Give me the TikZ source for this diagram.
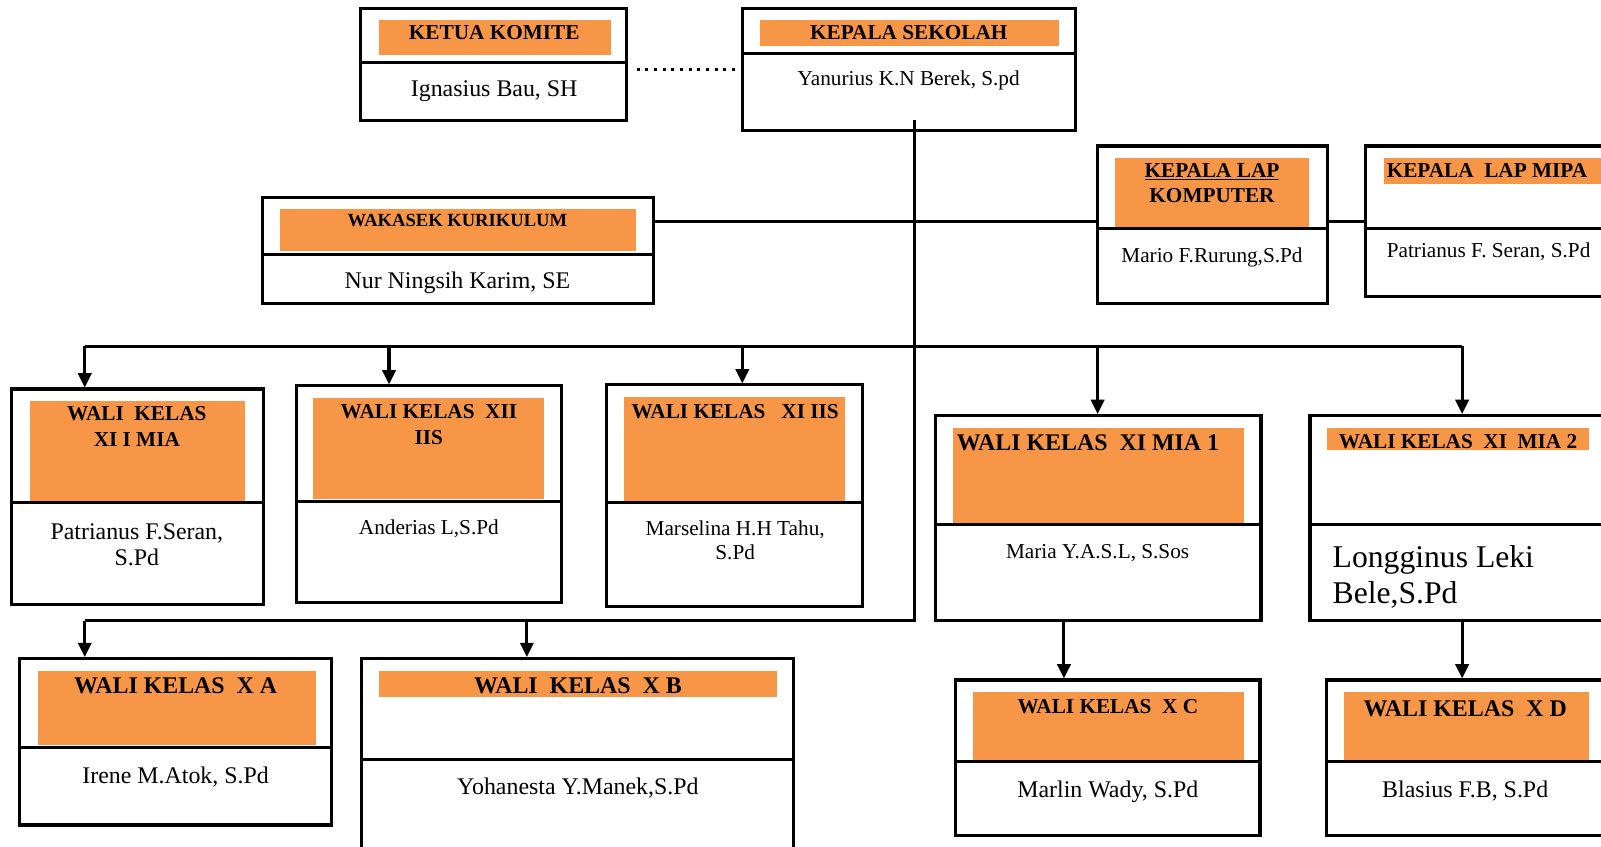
\documentclass[tikz,border=0pt]{standalone}
\usepackage{fontspec}
\setmainfont{Liberation Serif}
\usetikzlibrary{arrows.meta}
\definecolor{orng}{RGB}{247,150,70}
\tikzset{
 boxst/.style={draw, line width=3pt, rectangle, inner sep=0pt},
 divst/.style={line width=3pt},
 bar/.style={fill=orng},
 hd/.style={font=\fontsize{20.8}{25}\selectfont\bfseries, inner sep=0pt, anchor=base},
 hdl/.style={font=\fontsize{23.4}{28}\selectfont\bfseries, inner sep=0pt, anchor=base},
 nm/.style={font=\fontsize{20.8}{25}\selectfont, inner sep=0pt, anchor=base},
 nml/.style={font=\fontsize{23.4}{28}\selectfont, inner sep=0pt, anchor=base},
 conn/.style={line width=3pt},
 arr/.style={line width=3pt, -{Triangle[width=13pt,length=14pt]}},
 dotln/.style={line width=3pt, dash pattern=on 3pt off 5.5pt}
}
\newcommand\orgbox[6]{%
  \node[boxst, minimum width={(#4)-(#2)}, minimum height={(#5)-(#3)}] (#1) at ({((#2)+(#4))/2},{((#3)+(#5))/2}) {};
  \draw[divst] (#1.west |- 0,#6) -- (#1.east |- 0,#6);
}
\begin{document}
\begin{tikzpicture}[x=1pt,y=-1pt]
\useasboundingbox (0,0) rectangle (1568,829);
\clip (0,0) rectangle (1568,829);
% orange bars
\fill[bar] (371,20) rectangle (598,54);
\fill[bar] (744,20) rectangle (1037,45);
\fill[bar] (274,205) rectangle (623,246);
\fill[bar] (1092,155) rectangle (1282,222);
\fill[bar] (1355,155) rectangle (1600,180);
\fill[bar] (29,393) rectangle (240,491);
\fill[bar] (307,390) rectangle (533,489);
\fill[bar] (611,389) rectangle (828,491);
\fill[bar] (933,419) rectangle (1218,513);
\fill[bar] (1300,419) rectangle (1556,441);
\fill[bar] (37,657) rectangle (309,730);
\fill[bar] (371,657) rectangle (761,683);
\fill[bar] (953,678) rectangle (1218,745);
\fill[bar] (1316,678) rectangle (1556,745);
% boxes
\orgbox{komite}{353}{8}{614}{118}{61}
\orgbox{kepsek}{727}{8}{1053}{128}{52}
\orgbox{wakasek}{257}{193}{640}{297}{249}
\orgbox{labkom}{1075}{143}{1300}{297}{224}
\orgbox{labmipa}{1337}{143}{1600}{290}{224}
\orgbox{w11}{11}{381}{258}{592}{492}
\orgbox{w12}{290}{378}{550}{590}{491}
\orgbox{w13}{594}{377}{845}{594}{492}
\orgbox{wm1}{916}{407}{1235}{608}{514}
\orgbox{wm2}{1283}{407}{1600}{608}{514}
\orgbox{xa}{19}{645}{325}{808}{732}
\orgbox{xb}{354}{645}{777}{860}{744}
\orgbox{xc}{936}{666}{1234}{818}{746}
\orgbox{xd}{1299}{666}{1600}{818}{746}
% texts
\node[hd] (t1) at (484,39) {KETUA KOMITE};
\node[nml] (n1) at (484,95) {Ignasius Bau, SH};
\node[hd] (t2) at (890,39) {KEPALA SEKOLAH};
\node[nm] (n2) at (890,84) {Yanurius K.N Berek, S.pd};
\node[hd, font=\fontsize{18.2}{22}\selectfont\bfseries] (t3) at (448,222) {WAKASEK KURIKULUM};
\node[nml] (n3) at (448,283) {Nur Ningsih Karim, SE};
\node[hd] (t4a) at (1187,174) {\underline{KEPALA LAP}};
\node[hd] (t4b) at (1187,198) {KOMPUTER};
\node[nm] (n4) at (1187,257) {Mario F.Rurung,S.Pd};
\node[hd, anchor=base west] (t5) at (1358,174) {KEPALA~~LAP MIPA};
\node[nm, anchor=base west] (n5) at (1358,252) {Patrianus F. Seran, S.Pd};
\node[hd] (t6a) at (134,412) {WALI~~KELAS};
\node[hd] (t6b) at (134,437) {XI I MIA};
\node[nml] (n6a) at (134,528) {Patrianus F.Seran,};
\node[nml] (n6b) at (134,554) {S.Pd};
\node[hd] (t7a) at (420,410) {WALI KELAS~~XII};
\node[hd] (t7b) at (420,435) {IIS};
\node[nm] (n7) at (420,523) {Anderias L,S.Pd};
\node[hd] (t8) at (720,410) {WALI KELAS~~~XI IIS};
\node[nm] (n8a) at (720,524) {Marselina H.H Tahu,};
\node[nm] (n8b) at (720,548) {S.Pd};
\node[hdl, anchor=base west] (t9) at (937,441) {WALI KELAS~~XI MIA 1};
\node[nm] (n9) at (1075,547) {Maria Y.A.S.L, S.Sos};
\node[hd] (t10) at (1428,439) {WALI KELAS~~XI~~MIA 2};
\node[nm, font=\fontsize{31}{35}\selectfont, anchor=base west] (n10a) at (1305,556) {Longginus Leki};
\node[nm, font=\fontsize{31}{35}\selectfont, anchor=base west] (n10b) at (1305,591) {Bele,S.Pd};
\node[hdl] (t11) at (172,679) {WALI KELAS~~X A};
\node[nml] (n11) at (172,767) {Irene M.Atok, S.Pd};
\node[hdl] (t12) at (566,679) {WALI~~KELAS~~X B};
\node[nml] (n12) at (566,778) {Yohanesta Y.Manek,S.Pd};
\node[hd] (t13) at (1085,699) {WALI KELAS~~X C};
\node[nml] (n13) at (1085,781) {Marlin Wady, S.Pd};
\node[hdl] (t14) at (1435,702) {WALI KELAS~~X D};
\node[nml] (n14) at (1435,781) {Blasius F.B, S.Pd};
% connectors
\draw[dotln, shorten <=8pt, shorten >=5pt] (komite.east |- 0,68) -- (kepsek.west |- 0,68);
\draw[conn] (wakasek.east |- 0,217) -- (labkom.west |- 0,217);
\draw[conn] (labkom.east |- 0,217) -- (labmipa.west |- 0,217);
\coordinate (trunktop) at (896,118);
\coordinate (jR) at (896,608);
\coordinate (jL) at (83,608);
\coordinate (jB) at (516,608);
\draw[conn] (trunktop) -- (jR) -- (jL);
\draw[arr] (jL) -- (jL |- xa.north);
\draw[arr] (jB) -- (jB |- xb.north);
\coordinate (b1) at (83,339);
\coordinate (b2) at (381,339);
\coordinate (b3) at (727,339);
\coordinate (b4) at (1075,339);
\coordinate (b5) at (1432,339);
\draw[conn] (b1) -- (b5);
\draw[arr] (b1) -- (b1 |- w11.north);
\draw[arr] (b2) -- (b2 |- w12.north);
\draw[arr] (b3) -- (b3 |- w13.north);
\draw[arr] (b4) -- (b4 |- wm1.north);
\draw[arr] (b5) -- (b5 |- wm2.north);
\draw[arr] (wm1.south -| 1042,0) -- (xc.north -| 1042,0);
\draw[arr] (wm2.south -| 1432,0) -- (xd.north -| 1432,0);
\end{tikzpicture}
\end{document}
